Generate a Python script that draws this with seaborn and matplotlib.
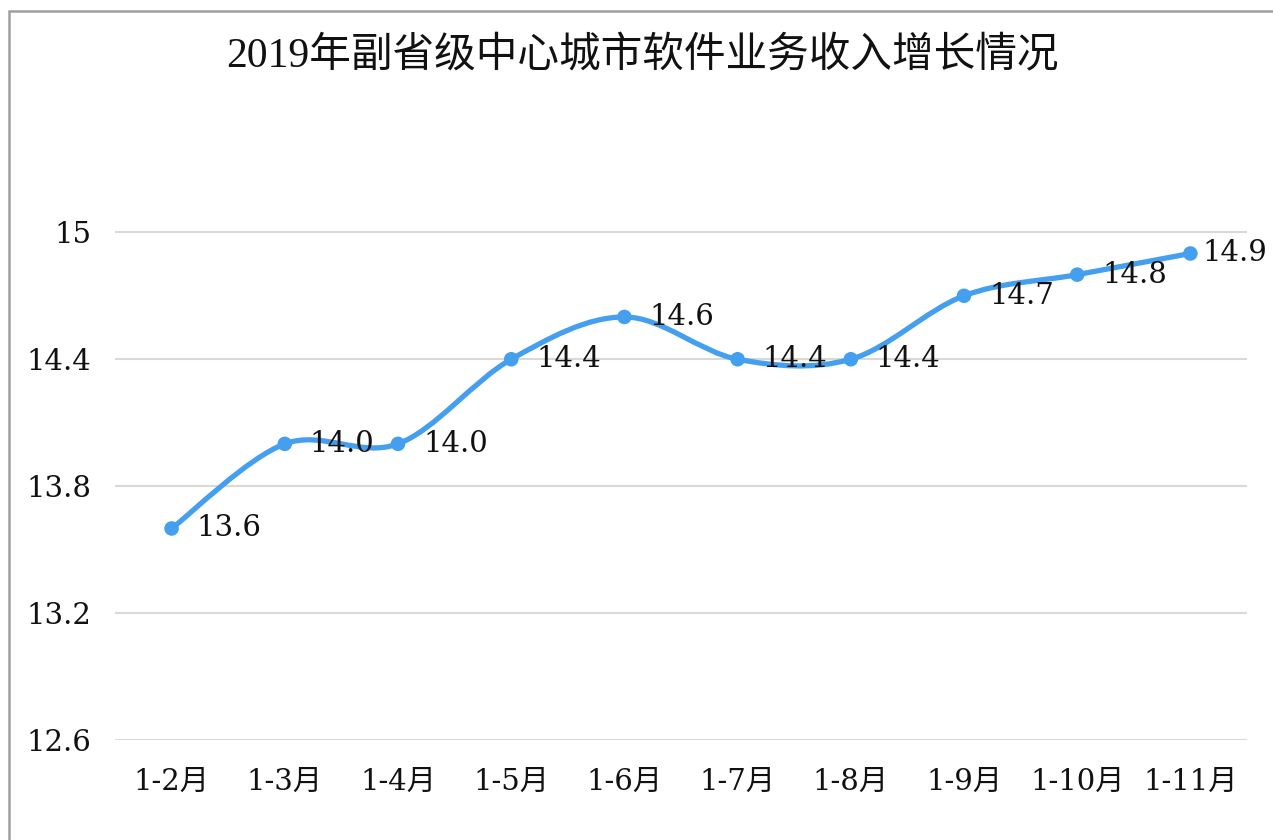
import numpy as np
import pandas as pd
import matplotlib
matplotlib.use("Agg")
import matplotlib.pyplot as plt
import seaborn as sns
from matplotlib.path import Path
from matplotlib.patches import PathPatch, Rectangle

title = "2019年副省级中心城市软件业务收入增长情况"
months = ["1-2月", "1-3月", "1-4月", "1-5月", "1-6月", "1-7月", "1-8月", "1-9月", "1-10月", "1-11月"]
growth = [13.6, 14.0, 14.0, 14.4, 14.6, 14.4, 14.4, 14.7, 14.8, 14.9]
yticks = [12.6, 13.2, 13.8, 14.4, 15]
ytick_labels = ["12.6", "13.2", "13.8", "14.4", "15"]

LINE = "#449FEF"
GRID = "#D9D9D9"
TITLE_FONT = ["Liberation Serif", "Noto Sans CJK SC", "DejaVu Sans"]
NUM_FONT = ["DejaVu Serif", "Noto Sans CJK SC", "DejaVu Sans"]

sns.set_theme(style="white")
plt.rcParams["font.family"] = NUM_FONT


def smooth_path(x, y):
    # excel-like smoothed line: cubic bezier with catmull-rom control points
    verts = [(x[0], y[0])]
    codes = [Path.MOVETO]
    n = len(x)
    for i in range(n - 1):
        a = i - 1 if i > 0 else i
        b = i + 2 if i + 2 < n else i + 1
        c1 = (x[i] + (x[i + 1] - x[a]) / 6, y[i] + (y[i + 1] - y[a]) / 6)
        c2 = (x[i + 1] - (x[b] - x[i]) / 6, y[i + 1] - (y[b] - y[i]) / 6)
        verts += [c1, c2, (x[i + 1], y[i + 1])]
        codes += [Path.CURVE4] * 3
    return Path(verts, codes)


df = pd.DataFrame({"month": months, "growth": growth})

fig = plt.figure(figsize=(12.73, 8.40), dpi=100)
ax = fig.add_axes([115 / 1273, 100 / 840, (1247 - 115) / 1273, 624 / 840])

xs = np.arange(len(months), dtype=float)
ax.add_patch(PathPatch(smooth_path(xs, np.array(growth)), facecolor="none",
                       edgecolor=LINE, lw=3.8, capstyle="round", zorder=3))
sns.scatterplot(data=df, x="month", y="growth", ax=ax, color=LINE, s=110,
                edgecolor="none", zorder=4, legend=False)

offsets = [18] * 9 + [9]
for i, v in enumerate(growth):
    ax.annotate(f"{v:.1f}", (i, v), xytext=(offsets[i], 0), textcoords="offset points",
                ha="left", va="center", fontsize=21, color="#111111", zorder=5)

ax.set_xlim(-0.5, len(months) - 0.5)
ax.set_ylim(12.6, 15.55)
ax.set_yticks(yticks, ytick_labels)
ax.set_xticks(range(len(months)), months)
ax.yaxis.grid(True, color=GRID, lw=1.5)
ax.set_axisbelow(True)
ax.tick_params(axis="y", length=0, pad=17, labelsize=21, labelcolor="#111111")
ax.tick_params(axis="x", length=0, pad=20, labelsize=21, labelcolor="#111111")
ax.set_xlabel("")
ax.set_ylabel("")
for s in ax.spines.values():
    s.set_visible(False)

fig.text(0.505, 1 - 57 / 840, title, ha="center", va="center", fontsize=30,
         color="#111111", family=TITLE_FONT)

fig.add_artist(Rectangle((9 / 1273, -0.5), 2, 0.5 + (1 - 11 / 840), transform=fig.transFigure,
                         facecolor="none", edgecolor="#A0A0A0", lw=1.8))

fig.savefig("out.png", dpi=100)
